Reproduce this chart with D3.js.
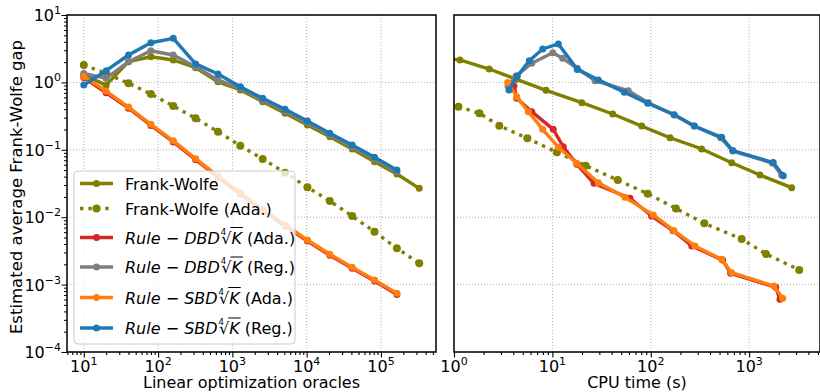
<!DOCTYPE html>
<html lang="en">
<head>
  <meta charset="UTF-8" />
  <title>Frank-Wolfe gap: oracles and CPU time</title>
  <script src="https://d3js.org/d3.v7.min.js"></script>
  <style>
    body { margin:0; padding:0; background:#fff; }
    svg { display:block; font-family:"DejaVu Sans", sans-serif; }
    .grid line { stroke:#b0b0b0; stroke-width:1; stroke-dasharray:1,2; }
    .tick line { stroke:#000; }
  </style>
</head>
<body>
  <svg width="820" height="392"></svg>

  <script>
  // ---- data: left panel (x = linear optimization oracles) ----
  const oracles = [10, 20, 40, 80, 160, 320, 640, 1280, 2560, 5120, 10240, 20480, 40960, 81920, 163840, 327680];
  const fwGapOr     = [1.29, 0.91, 2.03, 2.40, 2.15, 1.65, 1.02, 0.771, 0.518, 0.348, 0.233, 0.156, 0.103, 0.0665, 0.0438, 0.0268];
  const fwAdaGapOr  = [1.81, 1.36, 0.97, 0.673, 0.447, 0.293, 0.186, 0.115, 0.0731, 0.0457, 0.0278, 0.0174, 0.0104, 0.0061, 0.00346, 0.00207];
  const dbdAdaGapOr = [1.18, 0.70, 0.415, 0.23, 0.131, 0.0712, 0.0394, 0.0221, 0.0126, 0.0074, 0.00443, 0.00272, 0.00175, 0.00113, 0.000715];
  const dbdRegGapOr = [1.36, 1.15, 2.03, 2.95, 2.55, 1.71, 1.09, 0.817, 0.548, 0.377, 0.252, 0.166, 0.111, 0.0723, 0.0473];
  const sbdAdaGapOr = [1.22, 0.745, 0.431, 0.239, 0.136, 0.0738, 0.0408, 0.0229, 0.0130, 0.00766, 0.00459, 0.00282, 0.00181, 0.00117, 0.000743];
  const sbdRegGapOr = [0.915, 1.49, 2.55, 3.88, 4.51, 1.88, 1.33, 0.863, 0.581, 0.399, 0.267, 0.176, 0.118, 0.0774, 0.0501];

  // ---- data: right panel (x = CPU time, s) ----
  const fwTime     = [0.57, 1.15, 2.28, 4.34, 8.61, 19.9, 41.0, 80.9, 157, 329, 664, 1288, 2704];
  const fwGapT     = [2.40, 2.15, 1.58, 1.11, 0.763, 0.500, 0.340, 0.225, 0.151, 0.103, 0.0644, 0.0423, 0.0274];
  const fwAdaTime  = [1.11, 1.81, 2.89, 5.56, 11.1, 21.8, 46.1, 93.0, 180, 350, 839, 1483, 3228];
  const fwAdaGapT  = [0.436, 0.348, 0.228, 0.148, 0.0918, 0.0581, 0.0356, 0.0223, 0.0135, 0.0081, 0.00475, 0.00285, 0.00165];
  const dbdAdaTime = [4.07, 4.34, 6.17, 10.2, 12.9, 17.7, 26.5, 61.5, 102, 169, 261, 538, 649, 1858, 2056];
  const dbdAdaGapT = [0.885, 0.581, 0.368, 0.201, 0.111, 0.0610, 0.0318, 0.0191, 0.0104, 0.0063, 0.00374, 0.00231, 0.00147, 0.000912, 0.000605];
  const dbdRegTime = [3.54, 4.27, 6.17, 10.1, 12.7, 17.9, 27.1, 59.0, 94.4, 173, 277, 513, 684, 1718, 2138];
  const dbdRegGapT = [0.885, 1.24, 1.92, 2.76, 2.28, 1.62, 1.06, 0.753, 0.500, 0.328, 0.225, 0.151, 0.0959, 0.0637, 0.0423];
  const sbdAdaTime = [3.51, 4.34, 5.69, 7.97, 11.5, 17.7, 29.3, 54.7, 106, 172, 281, 526, 664, 1786, 2190];
  const sbdAdaGapT = [1.00, 0.614, 0.368, 0.201, 0.109, 0.0631, 0.0325, 0.0197, 0.0108, 0.0063, 0.00374, 0.00237, 0.00150, 0.000953, 0.000626];
  const sbdRegTime = [3.62, 4.40, 5.82, 7.97, 11.5, 17.9, 29.3, 53.8, 92.9, 173, 277, 526, 680, 1758, 2223];
  const sbdRegGapT = [0.771, 1.24, 2.10, 3.13, 3.72, 1.56, 1.09, 0.713, 0.490, 0.332, 0.225, 0.153, 0.0973, 0.0646, 0.0413];

  // ---- ticks / labels ----
  const yExps      = [-4, -3, -2, -1, 0, 1];
  const leftXExps  = [1, 2, 3, 4, 5];
  const rightXExps = [0, 1, 2, 3];
  const seriesNames = ["Frank-Wolfe", "Frank-Wolfe (Ada.)", "DBD|Ada.", "DBD|Reg.", "SBD|Ada.", "SBD|Reg."];
  const seriesColors = ["#808000", "#808000", "#d62728", "#7f7f7f", "#ff7f0e", "#1f77b4"];
  const xLabels = ["Linear optimization oracles", "CPU time (s)"];
  const yLabel = "Estimated average Frank-Wolfe gap";

  const zip = (xs, ys) => ys.map((v, i) => [xs[i], v]);
  const leftSeries = [
    zip(oracles, fwGapOr), zip(oracles, fwAdaGapOr), zip(oracles, dbdAdaGapOr),
    zip(oracles, dbdRegGapOr), zip(oracles, sbdAdaGapOr), zip(oracles, sbdRegGapOr)
  ];
  const rightSeries = [
    zip(fwTime, fwGapT), zip(fwAdaTime, fwAdaGapT), zip(dbdAdaTime, dbdAdaGapT),
    zip(dbdRegTime, dbdRegGapT), zip(sbdAdaTime, sbdAdaGapT), zip(sbdRegTime, sbdRegGapT)
  ];

  const svg = d3.select("svg");
  const TOP = 15, BOT = 352;
  const LW = 3.4, MR = 3.5;
  const y = d3.scaleLog().domain([1e-4, 10]).range([BOT, TOP]);
  const sup = e => (e < 0 ? "\u2212" + (-e) : "" + e);

  function minorTicks(scale) {
    const [a, b] = scale.domain(), out = [];
    for (let e = Math.floor(Math.log10(a)); e <= Math.ceil(Math.log10(b)); e++)
      for (let m = 2; m <= 9; m++) {
        const v = m * Math.pow(10, e);
        if (v >= a && v <= b) out.push(v);
      }
    return out;
  }

  function drawPanel(x, xExps, series, id, showY, xLabel) {
    const [x0, x1] = x.range();
    const g = svg.append("g");
    g.append("clipPath").attr("id", id).append("rect")
      .attr("x", x0).attr("y", TOP).attr("width", x1 - x0).attr("height", BOT - TOP);

    // grid
    const grid = g.append("g").attr("class", "grid");
    grid.selectAll(".gx").data(xExps.map(e => Math.pow(10, e))).enter().append("line")
      .attr("x1", d => x(d)).attr("x2", d => x(d)).attr("y1", TOP).attr("y2", BOT);
    grid.selectAll(".gy").data(yExps.map(e => Math.pow(10, e))).enter().append("line")
      .attr("x1", x0).attr("x2", x1).attr("y1", d => y(d)).attr("y2", d => y(d));

    // x axis ticks
    const xMajor = xExps.map(e => Math.pow(10, e));
    g.append("g").attr("transform", `translate(0,${BOT})`)
      .call(d3.axisBottom(x).tickValues(minorTicks(x)).tickSize(3).tickFormat(""))
      .call(s => s.select(".domain").remove());
    g.append("g").attr("transform", `translate(0,${BOT})`)
      .call(d3.axisBottom(x).tickValues(xMajor).tickSize(5.5).tickFormat(""))
      .call(s => s.select(".domain").remove());
    g.selectAll(".tick line").attr("stroke-width", 1.1);
    const xl = g.selectAll(".xl").data(xExps).enter().append("text")
      .attr("x", d => x(Math.pow(10, d))).attr("y", 372)
      .attr("text-anchor", "middle").attr("font-size", 16);
    xl.append("tspan").text("10");
    xl.append("tspan").attr("dy", -7).attr("font-size", 11).text(d => sup(d));

    if (showY) {
      g.append("g").attr("transform", `translate(${x0},0)`)
        .call(d3.axisLeft(y).tickValues(minorTicks(y)).tickSize(3).tickFormat(""))
        .call(s => s.select(".domain").remove());
      g.append("g").attr("transform", `translate(${x0},0)`)
        .call(d3.axisLeft(y).tickValues(yExps.map(e => Math.pow(10, e))).tickSize(5.5).tickFormat(""))
        .call(s => s.select(".domain").remove());
      const yl = g.selectAll(".yl").data(yExps).enter().append("text")
        .attr("x", x0 - 6).attr("y", d => y(Math.pow(10, d)) + 6)
        .attr("text-anchor", "end").attr("font-size", 16);
      yl.append("tspan").text("10");
      yl.append("tspan").attr("dy", -7).attr("font-size", 11).text(d => sup(d));
    }

    // series
    const line = d3.line().x(d => x(d[0])).y(d => y(d[1]));
    const plot = g.append("g").attr("clip-path", `url(#${id})`);
    series.forEach((data, i) => {
      const s = plot.append("g");
      s.append("path").datum(data)
        .attr("d", line).attr("fill", "none")
        .attr("stroke", seriesColors[i]).attr("stroke-width", LW)
        .attr("stroke-linejoin", "round")
        .attr("stroke-dasharray", i === 1 ? "3.4,5" : null);
      s.selectAll("circle").data(data).enter().append("circle")
        .attr("cx", d => x(d[0])).attr("cy", d => y(d[1]))
        .attr("r", i === 1 ? MR + 0.5 : MR).attr("fill", seriesColors[i]);
    });

    // frame
    g.append("rect").attr("x", x0).attr("y", TOP).attr("width", x1 - x0).attr("height", BOT - TOP)
      .attr("fill", "none").attr("stroke", "#000").attr("stroke-width", 1.5);

    g.append("text").attr("x", (x0 + x1) / 2).attr("y", 388)
      .attr("text-anchor", "middle").attr("font-size", 16).text(xLabel);
    return g;
  }

  const xLeft = d3.scaleLog().domain([Math.pow(10, 0.774), Math.pow(10, 5.741)]).range([67, 436]);
  const xRight = d3.scaleLog().domain([1, Math.pow(10, 3.72)]).range([454, 820]);

  const gl = drawPanel(xLeft, leftXExps, leftSeries, "clipL", true, xLabels[0]);
  drawPanel(xRight, rightXExps, rightSeries, "clipR", false, xLabels[1]);

  svg.append("text").attr("transform", "translate(22,187) rotate(-90)")
    .attr("text-anchor", "middle").attr("font-size", 16.5).text(yLabel);

  // ---- legend ----
  const leg = gl.append("g");
  leg.append("rect").attr("x", 74).attr("y", 171).attr("width", 221).attr("height", 173)
    .attr("rx", 4).attr("fill", "#fff").attr("fill-opacity", 0.8)
    .attr("stroke", "#cccccc").attr("stroke-width", 1);
  const rowY = [183.5, 208.5, 237.5, 267, 297.5, 328];
  seriesNames.forEach((name, i) => {
    const cy = rowY[i];
    leg.append("line").attr("x1", 80).attr("x2", 113).attr("y1", cy).attr("y2", cy)
      .attr("stroke", seriesColors[i]).attr("stroke-width", LW)
      .attr("stroke-dasharray", i === 1 ? "3.4,5" : null);
    leg.append("circle").attr("cx", 96.5).attr("cy", cy).attr("r", i === 1 ? MR + 0.5 : MR)
      .attr("fill", seriesColors[i]);
    const t = leg.append("text").attr("x", 125).attr("y", cy + 6).attr("font-size", 16);
    if (name.indexOf("|") < 0) { t.text(name); return; }
    const [algo, tag] = name.split("|");
    t.append("tspan").attr("font-style", "italic").text("Rule");
    t.append("tspan").text(" \u2212 ");
    t.append("tspan").attr("font-style", "italic").text(algo);
    t.append("tspan").attr("font-size", 8.5).attr("dy", -9).attr("dx", 1).text("4");
    t.append("tspan").attr("dy", 9).attr("dx", -5).text("\u221A");
    t.append("tspan").attr("font-style", "italic").text("K");
    t.append("tspan").text(" (" + tag + ")");
    const full = t.text();
    const ki = full.indexOf("K");
    const ext = t.node().getExtentOfChar(ki);
    const rx = t.node().getExtentOfChar(ki - 1);
    leg.append("line")
      .attr("x1", rx.x + rx.width - 1).attr("x2", ext.x + ext.width + 1)
      .attr("y1", cy - 10).attr("y2", cy - 10)
      .attr("stroke", "#000").attr("stroke-width", 1);
  });
  </script>
</body>
</html>
